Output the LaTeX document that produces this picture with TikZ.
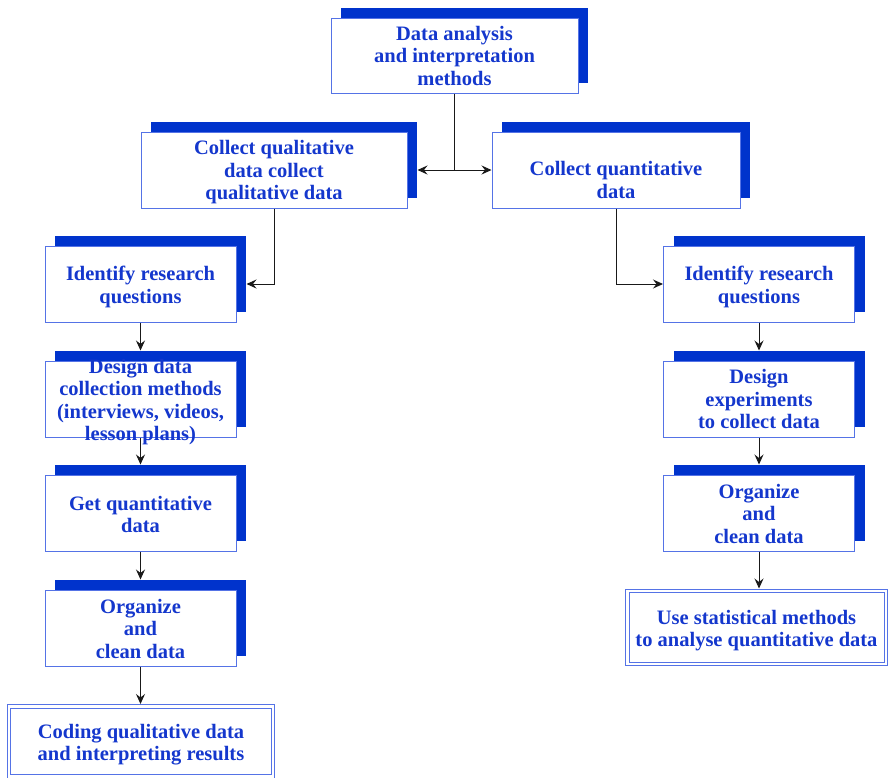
\documentclass[tikz,border=0pt]{standalone}
\usepackage{fontspec}
\setmainfont{Liberation Serif}
\usetikzlibrary{shadows,arrows.meta,calc}
\definecolor{txtblue}{RGB}{20,55,205}
\definecolor{shblue}{RGB}{0,51,204}
\definecolor{bdblue}{RGB}{85,115,230}
\begin{document}
\begin{tikzpicture}[x=1pt,y=-1pt,
 box/.style={draw=bdblue, line width=1pt, fill=white, inner sep=0pt,
   minimum width=191pt, minimum height=76pt,
   general shadow={fill=shblue, shadow xshift=10pt, shadow yshift=10pt}},
 endbox/.style={draw=bdblue, line width=1pt, double=white, double distance=2.5pt,
   inner sep=0pt},
 txt/.style={font=\fontsize{20.5}{22.5}\selectfont\bfseries, text=txtblue,
   align=center, inner sep=0pt, yshift=-3pt},
 conn/.style={line width=1pt, black!90},
 arr/.style={conn, -{Stealth[length=10pt,width=9pt,inset=3.5pt]}},
]
\useasboundingbox (0,0) rectangle (888,777);

\node[box, minimum width=247pt, minimum height=75pt,
  label={[txt,yshift=3pt]center:{Data analysis\\and interpretation\\methods}}] (top) at (454.5,55.5) {};
\node[box, minimum width=266pt,
  label={[txt,yshift=0.5pt]center:{Collect qualitative\\data collect\\qualitative data}}] (qual) at (274,170) {};
\node[box, minimum width=248pt,
  label={[txt,yshift=-7pt]center:{Collect quantitative\\data}}] (quant) at (616,170) {};

\node[box, label={[txt]center:{Identify research\\questions}}] (L1) at (140.5,284) {};
\node[box, label={[txt]center:{Design data\\collection methods\\(interviews, videos,\\lesson plans)}}] (L2) at (140.5,399) {};
\node[box, label={[txt,yshift=1.5pt]center:{Get quantitative\\data}}] (L3) at (140.5,513) {};
\node[box, label={[txt,yshift=2.5pt]center:{Organize\\and\\clean data}}] (L4) at (140.5,628) {};
\node[endbox, minimum width=264pt, minimum height=70pt,
  label={[txt]center:{Coding qualitative data\\and interpreting results}}] (code) at (141,741.5) {};

\node[box, label={[txt]center:{Identify research\\questions}}] (R1) at (759,284) {};
\node[box, label={[txt,yshift=3pt]center:{Design\\experiments\\to collect data}}] (R2) at (759,399) {};
\node[box, label={[txt,yshift=2.5pt]center:{Organize\\and\\clean data}}] (R3) at (759,513) {};
\node[endbox, minimum width=258.5pt, minimum height=73pt,
  label={[txt]center:{Use statistical methods\\to analyse quantitative data}}] (stat) at (756.5,627.5) {};

\coordinate (j) at (top.south |- qual.east);
\draw[conn] (top.south) -- (j);
\draw[arr] (j) -- ([xshift=10pt]qual.east);
\draw[arr] (j) -- (quant.west);

\coordinate (qc) at (qual.south |- L1.east);
\draw[arr] (qual.south) -- (qc) -- ([xshift=10pt]L1.east);
\coordinate (rc) at (quant.south |- R1.west);
\draw[arr] (quant.south) -- (rc) -- (R1.west);

\draw[arr] (L1.south) -- ([yshift=10pt]L2.north);
\draw[arr] (L2.south) -- ([yshift=10pt]L3.north);
\draw[arr] (L3.south) -- ([yshift=10pt]L4.north);
\coordinate (ce) at ([yshift=2pt]code.north);
\draw[arr] (L4.south) -- (L4.south |- ce);

\draw[arr] (R1.south) -- ([yshift=10pt]R2.north);
\draw[arr] (R2.south) -- ([yshift=10pt]R3.north);
\coordinate (se) at ([yshift=2pt]stat.north);
\draw[arr] (R3.south) -- (R3.south |- se);
\end{tikzpicture}
\end{document}
